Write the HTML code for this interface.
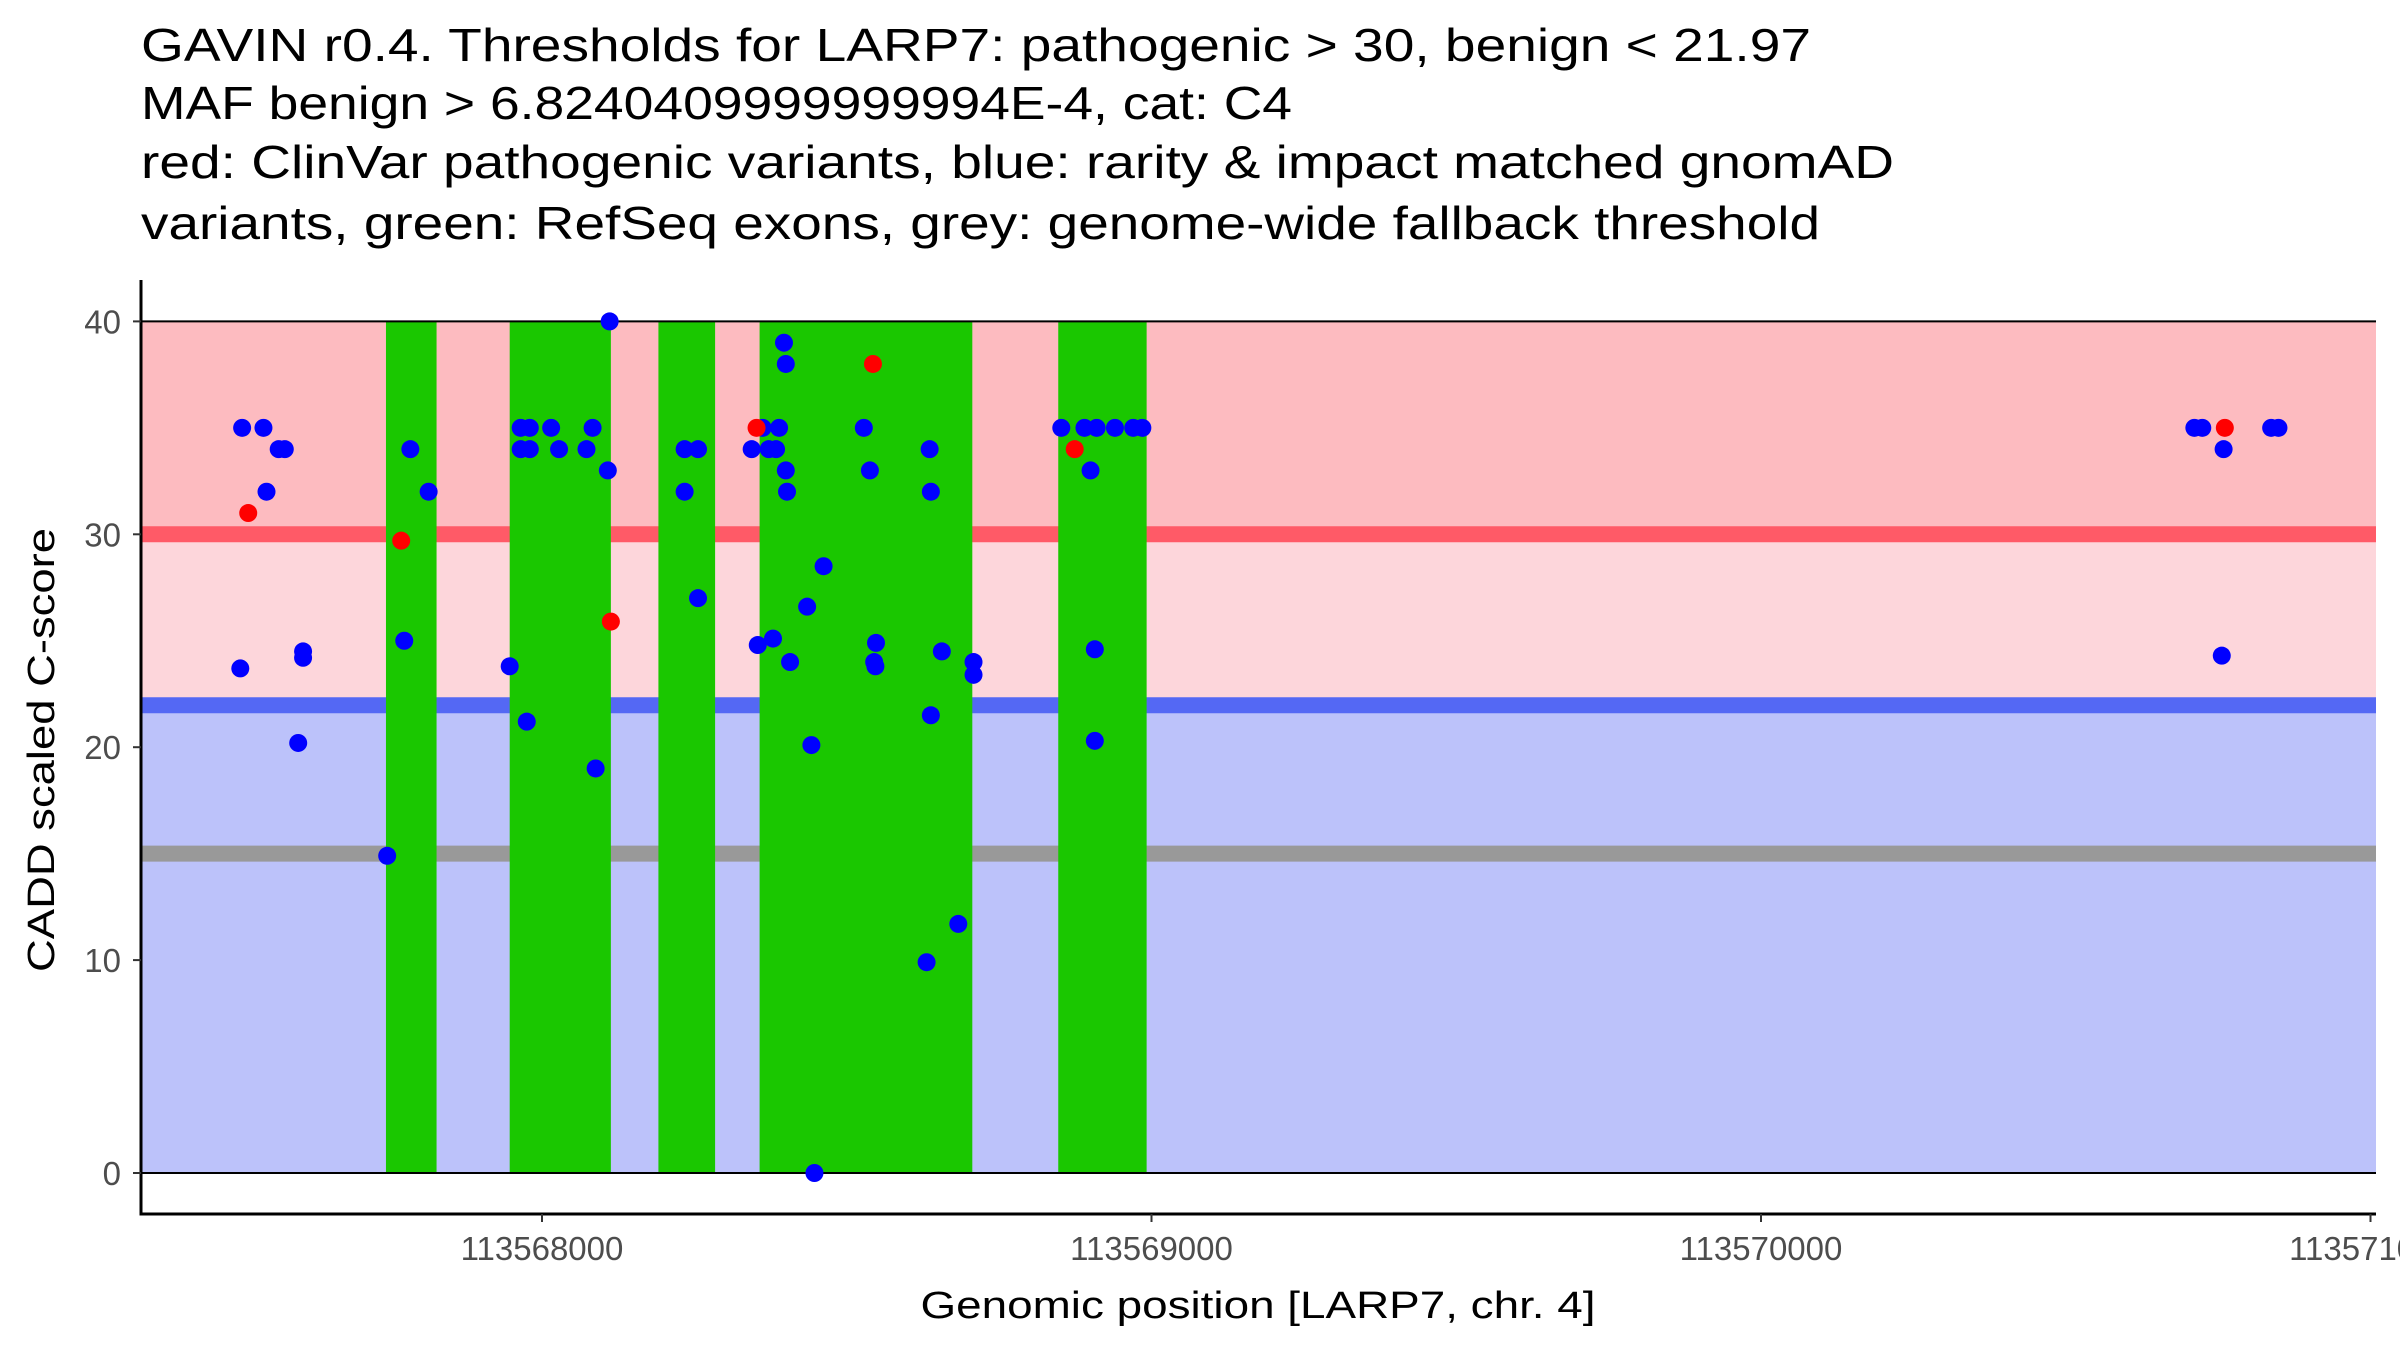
<!DOCTYPE html>
<html><head><meta charset="utf-8"><style>
html,body{margin:0;padding:0;background:#fff;}
svg{display:block;font-family:"Liberation Sans",Arial,sans-serif;}
</style></head><body>
<svg id="chart" width="2400" height="1350" viewBox="0 0 2400 1350" xmlns="http://www.w3.org/2000/svg">
<g font-size="46" fill="#000">
<text x="141" y="61" textLength="1670" lengthAdjust="spacingAndGlyphs">GAVIN r0.4. Thresholds for LARP7: pathogenic &gt; 30, benign &lt; 21.97</text>
<text x="141" y="119" textLength="1151" lengthAdjust="spacingAndGlyphs">MAF benign &gt; 6.8240409999999994E-4, cat: C4</text>
<text x="141" y="178" textLength="1753" lengthAdjust="spacingAndGlyphs">red: ClinVar pathogenic variants, blue: rarity &amp; impact matched gnomAD</text>
<text x="141" y="239" textLength="1679" lengthAdjust="spacingAndGlyphs">variants, green: RefSeq exons, grey: genome-wide fallback threshold</text>
</g>
<g id="plot"></g>
<text x="1258" y="1318" font-size="38" text-anchor="middle" textLength="675" lengthAdjust="spacingAndGlyphs">Genomic position [LARP7, chr. 4]</text>
<text transform="translate(54,750) rotate(-90)" font-size="38" text-anchor="middle" textLength="444" lengthAdjust="spacingAndGlyphs">CADD scaled C-score</text>
</svg>
<script>
const exonStarts = [113567744, 113567947, 113568191, 113568357, 113568847];
const exonEnds   = [113567827, 113568113, 113568284, 113568706, 113568992];
const thresholds = [30, 21.97, 15];
const thresholdNames = ['pathogenic-threshold-line','benign-threshold-line','fallback-threshold-line'];
const xTicks = [113568000, 113569000, 113570000, 113571000];
const xTickLabels = ['113568000','113569000','113570000','113571000'];
const yTicks = [0, 10, 20, 30, 40];
const yTickLabels = ['0','10','20','30','40'];
const bluePos = [113567508,113567543,113567568,113567578,113567548,113567505,113567608,113567608,113567600,113567746,113567774,113567784,113567814,113567947,113567965,113567980,113567965,113567980,113567975,113568015,113568028,113568073,113568083,113568088,113568108,113568111,113568234,113568256,113568234,113568256,113568344,113568354,113568362,113568372,113568384,113568379,113568389,113568397,113568400,113568400,113568402,113568407,113568435,113568442,113568447,113568462,113568528,113568538,113568548,113568545,113568547,113568631,113568636,113568638,113568638,113568656,113568683,113568708,113568708,113568852,113568890,113568910,113568940,113568970,113568985,113568900,113568907,113568907,113570711,113570724,113570759,113570756,113570837,113570849];
const blueScore = [35,35,34,34,32,23.7,24.5,24.2,20.2,14.9,25.0,34,32,23.8,35,35,34,34,21.2,35,34,34,35,19.0,33,40,34,34,32,27.0,34,24.8,35,34,34,25.1,35,39,38,33,32,24.0,26.6,20.1,0,28.5,35,33,24.9,24.0,23.8,9.9,34,32,21.5,24.5,11.7,24.0,23.4,35,35,35,35,35,35,33,24.6,20.3,35,35,34,24.3,35,35];
const redPos = [113567518,113567769,113568113,113568352,113568543,113568874,113570761];
const redScore = [31.0,29.7,25.9,35,38,34,35];

const NS='http://www.w3.org/2000/svg';
const PX0=141, PX1=2376, PYT=280, PYB=1214;
function sx(v){return 542+(v-113568000)*0.6095;}
function sy(v){return 1173-v*21.29;}
const g=document.getElementById('plot');
function mk(tag,attrs){const e=document.createElementNS(NS,tag);for(const k in attrs)e.setAttribute(k,attrs[k]);g.appendChild(e);return e;}

let r;
r=mk('rect',{x:PX0,y:sy(40),width:PX1-PX0,height:sy(30)-sy(40),fill:'#FDBBC0'});


r=mk('rect',{x:PX0,y:sy(30),width:PX1-PX0,height:sy(21.97)-sy(30),fill:'#FDD6DB'});


r=mk('rect',{x:PX0,y:sy(21.97),width:PX1-PX0,height:sy(0)-sy(21.97),fill:'#BCC2FA'});


const tcol=['#FF5A67','#5468F4','#999999'];
thresholds.forEach((t,i)=>{
  const l=mk('line',{x1:PX0,x2:PX1,y1:sy(t),y2:sy(t),stroke:tcol[i],'stroke-width':16});
  
  
});
exonStarts.forEach((s,i)=>{
  const e=mk('rect',{x:sx(s),y:sy(40),width:sx(exonEnds[i])-sx(s),height:sy(0)-sy(40),fill:'#1AC700'});
  
  
});
[40,0].forEach(v=>{
  const l=mk('line',{x1:PX0,x2:PX1,y1:sy(v),y2:sy(v),stroke:'#000','stroke-width':2});
  
  
});
bluePos.forEach((p,i)=>{
  const c=mk('circle',{cx:sx(p),cy:sy(blueScore[i]),r:9,fill:'#0000FF'});
  
  
});
redPos.forEach((p,i)=>{
  const c=mk('circle',{cx:sx(p),cy:sy(redScore[i]),r:9,fill:'#FF0000'});
  
  
});
let a=mk('line',{x1:PX0,x2:PX0,y1:PYT,y2:PYB+1.5,stroke:'#000','stroke-width':3});


a=mk('line',{x1:PX0-1.5,x2:PX1,y1:PYB,y2:PYB,stroke:'#000','stroke-width':3});


yTicks.forEach((t,i)=>{
  const tk=mk('line',{x1:PX0-8,x2:PX0,y1:sy(t),y2:sy(t),stroke:'#333','stroke-width':2});
  
  
  const tx=mk('text',{x:PX0-20,y:sy(t)+12,'font-size':33,'text-anchor':'end',fill:'#4d4d4d'});
  tx.textContent=yTickLabels[i];
  
  
});
xTicks.forEach((t,i)=>{
  const tk=mk('line',{x1:sx(t),x2:sx(t),y1:PYB,y2:PYB+8,stroke:'#333','stroke-width':2});
  
  
  const tx=mk('text',{x:sx(t),y:1260,'font-size':33,'text-anchor':'middle',fill:'#4d4d4d'});
  tx.textContent=xTickLabels[i];
  
  
});
</script>
</body></html>
